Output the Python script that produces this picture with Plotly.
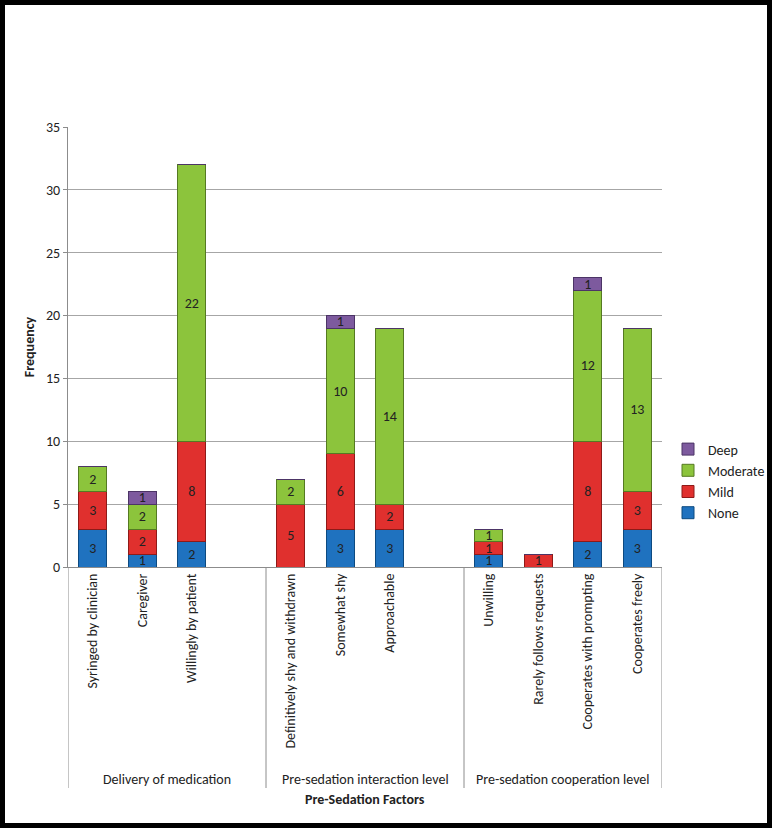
import plotly.graph_objects as go

categories = ["Syringed by clinician", "Caregiver", "Willingly by patient", "",
              "Definitively shy and withdrawn", "Somewhat shy", "Approachable", "",
              "Unwilling", "Rarely follows requests", "Cooperates with prompting", "Cooperates freely"]
groups = ["Delivery of medication", "Pre-sedation interaction level", "Pre-sedation cooperation level"]
none_vals = [3, 1, 2, None, 0, 3, 3, None, 1, 0, 2, 3]
mild_vals = [3, 2, 8, None, 5, 6, 2, None, 1, 1, 8, 3]
moderate_vals = [2, 2, 22, None, 2, 10, 14, None, 1, 0, 12, 13]
deep_vals = [0, 1, 0, None, 0, 1, 0, None, 0, 0, 1, 0]
y_ticks = [0, 5, 10, 15, 20, 25, 30, 35]

FONT = "Carlito, Lato, 'Open Sans', sans-serif"
FS = 14
xs = list(range(len(categories)))

series = [
    ("None", none_vals, "#1f72bf", "#0d4a80"),
    ("Mild", mild_vals, "#e0302e", "#8e1a18"),
    ("Moderate", moderate_vals, "#8cc43c", "#557a22"),
    ("Deep", deep_vals, "#7d5a9e", "#4c3466"),
]

fig = go.Figure()
for name, vals, col, edge in series:
    fig.add_trace(go.Bar(
        x=xs, y=vals, name=name,
        marker=dict(color=col, line=dict(color=edge, width=1)),
        text=[str(v) if v else "" for v in vals],
        textposition="inside", insidetextanchor="middle", textangle=0,
        textfont=dict(family=FONT, size=FS, color="#222222"),
        cliponaxis=False,
    ))

W, H = 772, 828
L, R, T, B = 68, 110, 127, 261
pw, ph = W - L - R, H - T - B

def px(x):
    return (x - L) / pw

def py(y):
    return (H - B - y) / ph

shapes = []
for xv in [-0.5, 3.5, 7.5, 11.5]:
    shapes.append(dict(type="line", xref="x", yref="paper", x0=xv, x1=xv,
                       y0=0, y1=py(788), line=dict(color="#8c8c8c", width=1)))
shapes.append(dict(type="rect", xref="paper", yref="paper",
                   x0=px(2.5), x1=px(W - 2.5), y0=py(H - 2.5), y1=py(2.5),
                   line=dict(color="black", width=5), fillcolor="rgba(0,0,0,0)", layer="above"))

annotations = []
for i, g in enumerate(groups):
    annotations.append(dict(x=1.5 + 4 * i, xref="x", y=py(779), yref="paper", text=g,
                            showarrow=False, font=dict(family=FONT, size=FS, color="#222222"),
                            xanchor="center", yanchor="middle"))
annotations.append(dict(x=px(365), xref="paper", y=py(799), yref="paper",
                        text="<b>Pre-Sedation Factors</b>", showarrow=False,
                        font=dict(family=FONT, size=FS, color="#222222"),
                        xanchor="center", yanchor="middle"))

fig.update_layout(
    width=W, height=H,
    margin=dict(l=L, r=R, t=T, b=B, autoexpand=False),
    barmode="stack", bargap=0.43,
    plot_bgcolor="white", paper_bgcolor="white",
    font=dict(family=FONT, size=FS, color="#222222"),
    uniformtext=dict(mode="show", minsize=FS),
    showlegend=True,
    legend=dict(x=px(668), y=py(481), xanchor="left", yanchor="middle",
                traceorder="reversed", font=dict(family=FONT, size=FS),
                itemwidth=30, tracegroupgap=0, bgcolor="rgba(0,0,0,0)"),
    xaxis=dict(range=[-0.5, 11.5], tickmode="array", tickvals=xs, ticktext=categories,
               tickangle=-90, showgrid=False, showline=True, linecolor="#8c8c8c",
               ticks="", tickfont=dict(family=FONT, size=FS, color="#222222"),
               zeroline=False, fixedrange=True),
    yaxis=dict(range=[0, 35], tickvals=y_ticks, showgrid=True, gridcolor="#a6a6a6",
               gridwidth=1, showline=True, linecolor="#8c8c8c", ticks="outside",
               ticklen=4, tickcolor="#8c8c8c", zeroline=False,
               tickfont=dict(family=FONT, size=FS, color="#222222"),
               title=dict(text="<b>Frequency</b>", font=dict(family=FONT, size=FS, color="#222222"),
                          standoff=8)),
    shapes=shapes, annotations=annotations,
)

fig.write_html("out.html", config={"displayModeBar": False},
               post_script="document.body.style.margin='0';document.body.style.padding='0';")
